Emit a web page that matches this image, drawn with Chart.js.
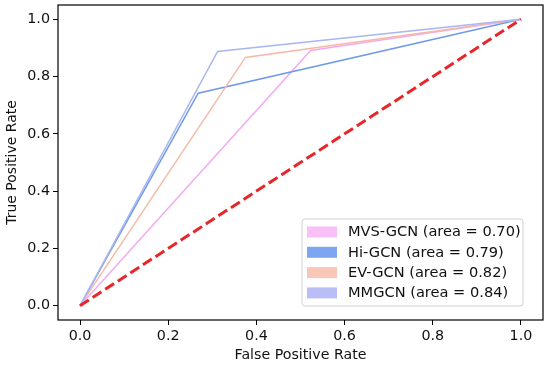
<!DOCTYPE html>
<html>
<head>
<meta charset="utf-8">
<script src="https://cdn.jsdelivr.net/npm/chart.js@4.4.1/dist/chart.umd.min.js"></script>
<style>
  html, body { margin: 0; padding: 0; background: #fff; }
  #wrap { width: 550px; height: 367px; }
</style>
</head>
<body>
<div id="wrap"><canvas id="c" width="550" height="367"></canvas></div>
<script>
// ---- data ----
const seriesNames = ['MVS-GCN', 'Hi-GCN', 'EV-GCN', 'MMGCN'];
const seriesAUC = ['0.70', '0.79', '0.82', '0.84'];
const fprMVS = [0, 0.523, 1];
const tprMVS = [0, 0.891, 1];
const fprHi = [0, 0.268, 1];
const tprHi = [0, 0.742, 1];
const fprEV = [0, 0.375, 1];
const tprEV = [0, 0.867, 1];
const fprMM = [0, 0.312, 1];
const tprMM = [0, 0.888, 1];
const chanceX = [0, 1];
const chanceY = [0, 1];
const xTicks = [0, 0.2, 0.4, 0.6, 0.8, 1.0];
const yTicks = [0, 0.2, 0.4, 0.6, 0.8, 1.0];

// ---- styles ----
const lineColors = ['#f2aaf2', '#6f9ae8', '#f5b9a6', '#a9b6f1'];
const patchColors = ['#f9c0f7', '#7ea6f0', '#f9c7b8', '#babdf6'];
const FONT = '"DejaVu Sans", sans-serif';

function pts(xs, ys) { return xs.map((x, i) => ({ x: x, y: ys[i] })); }

const fprs = [fprMVS, fprHi, fprEV, fprMM];
const tprs = [tprMVS, tprHi, tprEV, tprMM];

const datasets = seriesNames.map((n, i) => ({
  label: n + ' (area = ' + seriesAUC[i] + ')',
  data: pts(fprs[i], tprs[i]),
  borderColor: lineColors[i],
  backgroundColor: patchColors[i],
  borderWidth: 1.5,
  showLine: true,
  pointRadius: 0,
  tension: 0,
  order: 4 - i + 1
}));
datasets.push({
  label: 'chance',
  data: pts(chanceX, chanceY),
  borderColor: 'rgb(232,38,42)',
  borderWidth: 3,
  borderDash: [10.5, 4.5],
  showLine: true,
  pointRadius: 0,
  order: 0
});

const framePlugin = {
  id: 'frame',
  afterDraw(chart) {
    const ctx = chart.ctx;
    const a = chart.chartArea;
    ctx.save();
    ctx.strokeStyle = '#000';
    ctx.lineWidth = 1.2;
    ctx.strokeRect(a.left, a.top, a.right - a.left, a.bottom - a.top);

    // legend (inside the axes, lower right)
    const bx2 = a.right - 20, by2 = a.bottom - 14;
    const bx1 = bx2 - 221, by1 = by2 - 87;
    const r = 3;
    ctx.beginPath();
    ctx.moveTo(bx1 + r, by1);
    ctx.lineTo(bx2 - r, by1);
    ctx.quadraticCurveTo(bx2, by1, bx2, by1 + r);
    ctx.lineTo(bx2, by2 - r);
    ctx.quadraticCurveTo(bx2, by2, bx2 - r, by2);
    ctx.lineTo(bx1 + r, by2);
    ctx.quadraticCurveTo(bx1, by2, bx1, by2 - r);
    ctx.lineTo(bx1, by1 + r);
    ctx.quadraticCurveTo(bx1, by1, bx1 + r, by1);
    ctx.closePath();
    ctx.fillStyle = 'rgba(255,255,255,0.85)';
    ctx.fill();
    ctx.strokeStyle = '#d0d0d0';
    ctx.lineWidth = 1;
    ctx.stroke();

    ctx.font = '14.6px ' + FONT;
    ctx.textBaseline = 'middle';
    ctx.textAlign = 'left';
    for (let i = 0; i < seriesNames.length; i++) {
      const cy = by1 + 13 + i * 20.3;
      ctx.fillStyle = patchColors[i];
      ctx.fillRect(bx1 + 5, cy - 5.5, 30, 11);
      ctx.fillStyle = '#111';
      ctx.fillText(chart.data.datasets[i].label, bx1 + 46, cy + 0.5);
    }
    ctx.restore();
  }
};

new Chart(document.getElementById('c'), {
  type: 'scatter',
  data: { datasets: datasets },
  plugins: [framePlugin],
  options: {
    responsive: false,
    animation: false,
    devicePixelRatio: 1,
    layout: { padding: { left: 0, right: 7, top: 5, bottom: 0 } },
    plugins: { legend: { display: false }, tooltip: { enabled: false } },
    scales: {
      x: {
        type: 'linear',
        min: -0.05, max: 1.05,
        afterBuildTicks(s) { s.ticks = xTicks.map(v => ({ value: v })); },
        afterFit(s) { s.height = 47; s.paddingLeft = 0; s.paddingRight = 0; },
        grid: { display: true, drawOnChartArea: false, drawTicks: true, tickLength: 5, color: '#000', lineWidth: 1 },
        border: { display: false },
        ticks: {
          padding: 3,
          color: '#111',
          font: { family: FONT, size: 14.3 },
          maxRotation: 0,
          callback: v => v.toFixed(1)
        },
        title: { display: true, text: 'False Positive Rate', color: '#111', font: { family: FONT, size: 14.2 }, padding: { top: 3, bottom: 3 } }
      },
      y: {
        type: 'linear',
        min: -0.05, max: 1.05,
        afterBuildTicks(s) { s.ticks = yTicks.map(v => ({ value: v })); },
        afterFit(s) { s.width = 58; s.paddingTop = 0; s.paddingBottom = 0; },
        grid: { display: true, drawOnChartArea: false, drawTicks: true, tickLength: 5, color: '#000', lineWidth: 1 },
        border: { display: false },
        ticks: {
          padding: 3,
          color: '#111',
          font: { family: FONT, size: 14.3 },
          callback: v => v.toFixed(1)
        },
        title: { display: true, text: 'True Positive Rate', color: '#111', font: { family: FONT, size: 14 }, padding: { top: 4, bottom: 3 } }
      }
    }
  }
});
</script>
</body>
</html>
